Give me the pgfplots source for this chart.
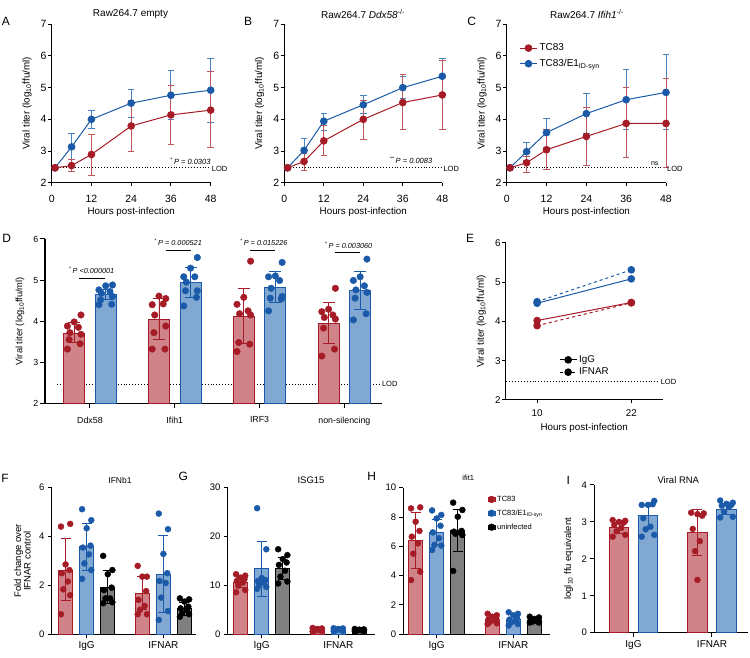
\documentclass[border=0pt]{standalone}
\usepackage{fontspec}
\setmainfont{Liberation Sans}
\usepackage{pgfplots}
\pgfplotsset{compat=1.18}
\definecolor{tcred}{RGB}{166,28,38}
\definecolor{tcblue}{RGB}{26,90,168}
\definecolor{redfill}{RGB}{208,132,137}
\definecolor{bluefill}{RGB}{128,168,210}
\definecolor{grayfill}{RGB}{128,128,128}
\definecolor{redeb}{RGB}{192,86,94}
\definecolor{blueeb}{RGB}{72,132,196}
\newcommand{\fs}[1]{\fontsize{#1}{#1}\selectfont}
\pgfplotsset{
 base/.style={scale only axis, anchor=south west, axis x line*=bottom, axis y line*=left,
   axis line style={line width=1pt,-}, every tick/.style={line width=1pt,black},
   tick align=outside, major tick length=3.5pt, clip=false,
   /pgf/number format/assume math mode=true,
   tick label style={font=\fs{10.5}},
   yticklabel style={inner sep=1.5pt},
   label style={font=\fs{9.8}}},
 linered/.style={tcred, line width=1pt, mark=*, mark size=3.3pt, mark options={fill=tcred, draw=tcred, solid},
   /pgfplots/error bars/y dir=both, /pgfplots/error bars/y explicit,
   /pgfplots/error bars/error bar style={line width=1pt, redeb},
   /pgfplots/error bars/error mark options={rotate=90, line width=1pt, redeb, mark size=3.3pt}},
 lineblue/.style={tcblue, line width=1pt, mark=*, mark size=3.3pt, mark options={fill=tcblue, draw=tcblue, solid},
   /pgfplots/error bars/y dir=both, /pgfplots/error bars/y explicit,
   /pgfplots/error bars/error bar style={line width=1pt, blueeb},
   /pgfplots/error bars/error mark options={rotate=90, line width=1pt, blueeb, mark size=3.3pt}},
 barsty/.style n args={4}{ybar, bar width=#1, bar shift=0pt, fill=#3, draw=#4, line width=0.9pt,
   /pgfplots/error bars/y dir=both, /pgfplots/error bars/y explicit,
   /pgfplots/error bars/error bar style={line width=0.9pt, #4},
   /pgfplots/error bars/error mark options={rotate=90, line width=0.9pt, #4, mark size=#2}},
 pts/.style 2 args={only marks, mark=*, mark size=#2, #1, mark options={fill=#1, draw=#1}},
 lod/.style={black, dotted, line width=0.9pt},
}
\begin{document}
\begin{tikzpicture}
\path[use as bounding box] (0pt,0pt) rectangle (750pt,658pt);

% ---------------- Panel A
\begin{axis}[base, at={(51.7pt,475.3pt)}, width=159pt, height=158.4pt,
  xmin=0, xmax=48, ymin=2, ymax=7, xtick={0,12,24,36,48}, ytick={2,3,4,5,6,7},
  xticklabel style={yshift=-5pt},
  xlabel={Hours post-infection}, ylabel={Viral titer (log\textsubscript{10}ffu/ml)},
  ylabel style={yshift=4pt}, xlabel style={yshift=2pt}]
\addplot[lod] coordinates {(0,2.47) (48,2.47)};
\addplot[lineblue] table[x=t,y=m,y error plus=ep,y error minus=em,row sep=\\] {
t m ep em\\ 1 2.47 0 0\\ 6 3.13 0.43 0.41\\ 12 4.00 0.27 0.29\\ 24 4.51 0.42 0.46\\ 36 4.76 0.78 0.78\\ 48 4.92 1.01 1.02\\};
\addplot[linered] table[x=t,y=m,y error plus=ep,y error minus=em,row sep=\\] {
t m ep em\\ 1 2.47 0 0\\ 6 2.54 0.18 0.19\\ 12 2.89 0.62 0.65\\ 24 3.79 0.82 0.79\\ 36 4.14 0.92 0.94\\ 48 4.29 1.22 1.18\\};
\node[anchor=base east, font=\fs{7.5}\itshape, inner sep=0pt] at (axis cs:48,2.57) {\textsuperscript{*}\,P = 0.0303};
\node[anchor=west, font=\fs{7.5}, inner sep=1pt] at (axis cs:48,2.45) {LOD};
\end{axis}

% ---------------- Panel B
\begin{axis}[base, at={(284.3pt,475.3pt)}, width=158pt, height=158.4pt,
  xmin=0, xmax=48, ymin=2, ymax=7, xtick={0,12,24,36,48}, ytick={2,3,4,5,6,7},
  xticklabel style={yshift=-5pt},
  xlabel={Hours post-infection}, ylabel={Viral titer (log\textsubscript{10}ffu/ml)},
  ylabel style={yshift=4pt}, xlabel style={yshift=2pt}]
\addplot[lod] coordinates {(0,2.47) (48,2.47)};
\addplot[lineblue] table[x=t,y=m,y error plus=ep,y error minus=em,row sep=\\] {
t m ep em\\ 1 2.47 0 0\\ 6 3.02 0.36 0.36\\ 12 3.94 0.24 0.28\\ 24 4.46 0.28 0.27\\ 36 5.00 0.35 0.34\\ 48 5.36 0.56 0.56\\};
\addplot[linered] table[x=t,y=m,y error plus=ep,y error minus=em,row sep=\\] {
t m ep em\\ 1 2.47 0 0\\ 6 2.67 0.26 0.29\\ 12 3.32 0.47 0.45\\ 24 4.00 0.61 0.65\\ 36 4.53 0.87 0.84\\ 48 4.77 1.10 1.08\\};
\node[anchor=base east, font=\fs{7.5}\itshape, inner sep=0pt] at (axis cs:45,2.6) {\textsuperscript{**}\,P = 0.0083};
\node[anchor=west, font=\fs{7.5}, inner sep=1pt] at (axis cs:48,2.45) {LOD};
\end{axis}

% ---------------- Panel C
\begin{axis}[base, at={(506.7pt,475.3pt)}, width=159.3pt, height=158.4pt,
  xmin=0, xmax=48, ymin=2, ymax=7, xtick={0,12,24,36,48}, ytick={2,3,4,5,6,7},
  xticklabel style={yshift=-5pt},
  xlabel={Hours post-infection}, ylabel={Viral titer (log\textsubscript{10}ffu/ml)},
  ylabel style={yshift=4pt}, xlabel style={yshift=2pt},
  legend style={at={(axis description cs:0.06,0.80)}, anchor=west, draw=none, fill=none,
    font=\fs{10}, row sep=3pt}, legend cell align=left]
\addlegendimage{linered}\addlegendentry{TC83}
\addlegendimage{lineblue}\addlegendentry{TC83/E1\textsubscript{ID-syn}}
\addplot[forget plot, lod] coordinates {(0,2.47) (48,2.47)};
\addplot[forget plot, lineblue] table[x=t,y=m,y error plus=ep,y error minus=em,row sep=\\] {
t m ep em\\ 1 2.47 0 0\\ 6 2.98 0.29 0.29\\ 12 3.58 0.46 0.46\\ 24 4.18 0.62 0.62\\ 36 4.62 0.94 0.95\\ 48 4.85 1.21 1.18\\};
\addplot[forget plot, linered] table[x=t,y=m,y error plus=ep,y error minus=em,row sep=\\] {
t m ep em\\ 1 2.47 0 0\\ 6 2.63 0.19 0.31\\ 12 3.04 0.63 0.61\\ 24 3.46 0.92 0.91\\ 36 3.87 1.13 1.09\\ 48 3.87 1.42 1.40\\};
\node[anchor=base, font=\fs{7}, inner sep=0pt] at (axis cs:44.6,2.55) {ns};
\node[anchor=west, font=\fs{7.5}, inner sep=1pt] at (axis cs:48,2.45) {LOD};
\end{axis}

% ---------------- Panel D
\begin{axis}[base, clip=true, clip mode=individual, at={(45pt,254.7pt)}, width=336.7pt, height=164.3pt,
  xmin=-0.53, xmax=3.44, ymin=2, ymax=6, xtick={0,1,2,3}, ytick={2,3,4,5,6},
  xticklabels={Ddx58,Ifih1,IRF3,non-silencing},
  major tick length=5pt,
  tick label style={font=\fs{8.8}}, xticklabel style={yshift=-5pt},
  ylabel={Viral titer (log\textsubscript{10}ffu/ml)}, ylabel style={font=\fs{9.3}, yshift=4pt}]
\addplot[lod] coordinates {(-0.39,2.47) (3.41,2.47)};
\addplot[barsty={21pt}{6pt}{redfill}{tcred}] table[x=x,y=y,y error plus=ep,y error minus=em,row sep=\\] {
x y ep em\\ -0.186 3.70 0.28 0.21\\ 0.814 4.04 0.51 0.49\\ 1.814 4.12 0.68 0.67\\ 2.814 3.95 0.50 0.50\\};
\addplot[barsty={21pt}{6pt}{bluefill}{tcblue}] table[x=x,y=y,y error plus=ep,y error minus=em,row sep=\\] {
x y ep em\\ 0.186 4.65 0.12 0.12\\ 1.186 4.93 0.37 0.36\\ 2.186 4.83 0.37 0.38\\ 3.186 4.74 0.46 0.45\\};
\addplot[pts={tcred}{3.3pt}] table[row sep=\\] {
x y\\ -0.106 4.15\\ -0.186 3.98\\ -0.266 3.88\\ -0.136 3.85\\ -0.236 3.72\\ -0.106 3.68\\ -0.246 3.55\\ -0.116 3.45\\ -0.266 3.32\\
0.894 4.55\\ 0.814 4.61\\ 0.734 4.40\\ 0.864 4.42\\ 0.764 4.15\\ 0.894 3.88\\ 0.754 3.72\\ 0.884 3.32\\ 0.734 3.32\\
1.894 5.46\\ 1.814 4.58\\ 1.734 4.41\\ 1.864 4.25\\ 1.764 4.18\\ 1.894 4.15\\ 1.754 3.48\\ 1.884 3.44\\ 1.734 3.26\\
2.894 4.80\\ 2.814 4.29\\ 2.734 4.23\\ 2.864 4.15\\ 2.764 4.09\\ 2.894 4.05\\ 2.754 3.83\\ 2.884 3.32\\ 2.734 3.15\\};
\addplot[pts={tcblue}{3.3pt}] table[row sep=\\] {
x y\\ 0.266 4.88\\ 0.186 4.86\\ 0.106 4.76\\ 0.236 4.72\\ 0.136 4.68\\ 0.266 4.60\\ 0.126 4.52\\ 0.256 4.41\\ 0.106 4.40\\
1.266 5.55\\ 1.186 5.29\\ 1.106 5.08\\ 1.236 5.08\\ 1.136 4.95\\ 1.266 4.74\\ 1.126 4.74\\ 1.256 4.58\\ 1.106 4.37\\
2.266 5.43\\ 2.186 5.10\\ 2.106 5.08\\ 2.236 4.99\\ 2.136 4.80\\ 2.266 4.60\\ 2.126 4.56\\ 2.256 4.54\\ 2.106 4.25\\
3.266 5.51\\ 3.186 5.08\\ 3.106 4.99\\ 3.236 4.86\\ 3.136 4.76\\ 3.266 4.70\\ 3.126 4.56\\ 3.256 4.18\\ 3.106 4.03\\};
\addplot[black, line width=0.9pt] coordinates {(-0.126,5.03) (0.177,5.03)};
\addplot[black, line width=0.9pt] coordinates {(0.893,5.72) (1.187,5.72)};
\addplot[black, line width=0.9pt] coordinates {(1.887,5.72) (2.18,5.72)};
\addplot[black, line width=0.9pt] coordinates {(2.889,5.67) (3.184,5.67)};
\node[font=\fs{7.3}\itshape] at (axis cs:0.02,5.23) {\textsuperscript{*}\,P <0.000001};
\node[font=\fs{7.3}\itshape] at (axis cs:1.04,5.91) {\textsuperscript{*}\,P = 0.000521};
\node[font=\fs{7.3}\itshape] at (axis cs:2.05,5.91) {\textsuperscript{*}\,P = 0.015226};
\node[font=\fs{7.3}\itshape] at (axis cs:3.05,5.85) {\textsuperscript{*}\,P = 0.003060};
\node[anchor=west, font=\fs{7.5}, inner sep=1pt] at (axis cs:3.43,2.47) {LOD};
\end{axis}

% ---------------- Panel E
\begin{axis}[base, at={(505.7pt,258pt)}, width=157pt, height=157.3pt,
  xmin=6, xmax=26, ymin=2, ymax=6, xtick={10,22}, ytick={2,3,4,5,6},
  tick label style={font=\fs{9.8}}, xticklabel style={yshift=-3pt},
  xlabel={Hours post-infection}, ylabel={Viral titer (log\textsubscript{10}ffu/ml)},
  ylabel style={yshift=4pt},
  legend style={at={(axis description cs:0.32,0.216)}, anchor=west, draw=none, fill=none,
    font=\fs{9.8}, row sep=0pt}, legend cell align=left]
\addlegendimage{black, line width=1pt, mark=*, mark size=3.3pt}\addlegendentry{IgG}
\addlegendimage{black, line width=1pt, dashed, mark=*, mark size=3.3pt, mark options={solid}}\addlegendentry{IFNAR}
\addplot[forget plot, lod] coordinates {(6.1,2.47) (25.6,2.47)};
\addplot[forget plot, tcblue, line width=1pt, mark=*, mark size=3.3pt] coordinates {(10,4.46) (22,5.08)};
\addplot[forget plot, tcblue, line width=1pt, dashed, mark=*, mark size=3.3pt, mark options={solid}] coordinates {(10,4.50) (22,5.31)};
\addplot[forget plot, tcred, line width=1pt, mark=*, mark size=3.3pt] coordinates {(10,4.02) (22,4.48)};
\addplot[forget plot, tcred, line width=1pt, dashed, mark=*, mark size=3.3pt, mark options={solid}] coordinates {(10,3.89) (22,4.47)};
\node[anchor=west, font=\fs{7.5}, inner sep=1pt] at (axis cs:25.6,2.47) {LOD};
\end{axis}

% ---------------- Panel F
\begin{axis}[base, at={(51.7pt,23.7pt)}, width=144.3pt, height=146.6pt,
  xmin=-0.456, xmax=1.425, ymin=0, ymax=6, xtick={0,1}, xticklabels={IgG,IFNAR}, ytick={0,2,4,6},
  major tick length=4pt, tick label style={font=\fs{9.5}}, xticklabel style={font=\fs{10}},
  yticklabel style={inner sep=3pt},
  ylabel={Fold change over\\IFNAR control}, ylabel style={align=center, font=\fs{9.5}, yshift=2pt}]
\addplot[barsty={14.3pt}{5pt}{redfill}{tcred}] table[x=x,y=y,y error plus=ep,y error minus=em,row sep=\\] {
x y ep em\\ -0.275 2.63 1.30 1.25\\ 0.725 1.68 0.67 0.68\\};
\addplot[barsty={14.3pt}{5pt}{bluefill}{tcblue}] table[x=x,y=y,y error plus=ep,y error minus=em,row sep=\\] {
x y ep em\\ 0 3.59 0.96 0.99\\ 1 2.46 1.57 1.57\\};
\addplot[barsty={14.3pt}{5pt}{grayfill}{black}] table[x=x,y=y,y error plus=ep,y error minus=em,row sep=\\] {
x y ep em\\ 0.275 1.91 0.69 0.66\\ 1.275 1.04 0.28 0.26\\};
\addplot[pts={tcred}{3pt}] table[row sep=\\] {
x y\\ -0.335 4.41\\ -0.215 4.52\\ -0.275 2.86\\ -0.225 2.63\\ -0.325 2.50\\ -0.245 2.16\\ -0.305 1.84\\ -0.215 1.60\\ -0.335 0.82\\
0.665 2.80\\ 0.785 2.36\\ 0.725 2.36\\ 0.775 1.77\\ 0.675 1.41\\ 0.755 1.16\\ 0.695 1.00\\ 0.785 0.82\\ 0.665 0.82\\};
\addplot[pts={tcblue}{3pt}] table[row sep=\\] {
x y\\ -0.06 5.12\\ 0.06 4.67\\ 0 4.34\\ 0.05 3.63\\ -0.05 3.55\\ 0.03 3.27\\ -0.03 2.90\\ 0.06 2.63\\ -0.06 2.27\\
0.94 4.94\\ 1.06 4.30\\ 1 3.29\\ 1.05 2.50\\ 0.95 2.18\\ 1.03 2.10\\ 0.97 1.50\\ 1.06 0.95\\ 0.94 0.59\\};
\addplot[pts={black}{3pt}] table[row sep=\\] {
x y\\ 0.215 3.21\\ 0.335 2.63\\ 0.275 2.46\\ 0.325 1.91\\ 0.225 1.81\\ 0.305 1.47\\ 0.245 1.47\\ 0.335 1.31\\ 0.215 1.27\\
1.215 1.47\\ 1.335 1.43\\ 1.275 1.34\\ 1.325 1.13\\ 1.225 1.06\\ 1.305 1.00\\ 1.245 0.86\\ 1.335 0.82\\ 1.215 0.72\\};
\end{axis}

% ---------------- Panel G
\begin{axis}[base, at={(227.7pt,23.7pt)}, width=147.3pt, height=146.6pt,
  xmin=-0.444, xmax=1.479, ymin=0, ymax=30, xtick={0,1}, xticklabels={IgG,IFNAR}, ytick={0,10,20,30},
  major tick length=4pt, tick label style={font=\fs{9.5}}, xticklabel style={font=\fs{10}},
  yticklabel style={inner sep=3pt}]
\addplot[barsty={14pt}{5pt}{redfill}{tcred}] table[x=x,y=y,y error plus=ep,y error minus=em,row sep=\\] {
x y ep em\\ -0.275 10.6 1.0 1.0\\ 0.725 0.93 0.2 0.2\\};
\addplot[barsty={14pt}{5pt}{bluefill}{tcblue}] table[x=x,y=y,y error plus=ep,y error minus=em,row sep=\\] {
x y ep em\\ 0 13.4 5.5 5.6\\ 1 0.95 0.2 0.2\\};
\addplot[barsty={14pt}{5pt}{grayfill}{black}] table[x=x,y=y,y error plus=ep,y error minus=em,row sep=\\] {
x y ep em\\ 0.275 13.5 2.3 2.3\\ 1.275 0.83 0.15 0.15\\};
\addplot[pts={tcred}{3pt}] table[row sep=\\] {
x y\\ -0.335 12.3\\ -0.215 12.0\\ -0.275 11.6\\ -0.225 11.3\\ -0.325 10.9\\ -0.245 10.6\\ -0.305 9.95\\ -0.215 9.07\\ -0.335 8.6\\
0.665 1.3\\ 0.785 1.2\\ 0.725 1.1\\ 0.775 1.0\\ 0.675 0.9\\ 0.755 0.85\\ 0.695 0.75\\ 0.785 0.7\\ 0.665 0.6\\};
\addplot[pts={tcblue}{3pt}] table[row sep=\\] {
x y\\ -0.06 25.8\\ 0.06 17.4\\ 0 11.5\\ 0.05 11.1\\ -0.05 10.9\\ 0.03 10.6\\ -0.03 10.1\\ 0.06 9.7\\ -0.06 9.3\\
0.94 1.25\\ 1.06 1.2\\ 1 1.1\\ 1.05 1.0\\ 0.95 0.95\\ 1.03 0.9\\ 0.97 0.8\\ 1.06 0.7\\ 0.94 0.65\\};
\addplot[pts={black}{3pt}] table[row sep=\\] {
x y\\ 0.215 17.4\\ 0.335 16.2\\ 0.275 15.4\\ 0.325 14.7\\ 0.225 14.2\\ 0.305 13.0\\ 0.245 11.8\\ 0.335 10.8\\ 0.215 10.4\\
1.215 1.1\\ 1.335 1.0\\ 1.275 0.95\\ 1.325 0.9\\ 1.225 0.85\\ 1.305 0.8\\ 1.245 0.75\\ 1.335 0.7\\ 1.215 0.65\\};
\end{axis}

% ---------------- Panel H
\begin{axis}[base, at={(403.3pt,23.7pt)}, width=146.7pt, height=146.6pt,
  xmin=-0.436, xmax=1.479, ymin=0, ymax=10, xtick={0,1}, xticklabels={IgG,IFNAR}, ytick={0,2,4,6,8,10},
  major tick length=4pt, tick label style={font=\fs{9.5}}, xticklabel style={font=\fs{10}},
  yticklabel style={inner sep=3pt},
  legend style={at={(axis description cs:0.568,0.825)}, anchor=west, draw=none, fill=none,
    font=\fs{7.5}, row sep=3pt, inner sep=1pt}, legend cell align=left,
  legend image code/.code={\path (0pt,-2pt) rectangle (7pt,2pt); \draw[#1] plot coordinates {(3.5pt,0pt)};}]
\addlegendimage{only marks, mark=*, mark size=3.4pt, tcred, mark options={fill=tcred}}\addlegendentry{TC83}
\addlegendimage{only marks, mark=*, mark size=3.4pt, tcblue, mark options={fill=tcblue}}\addlegendentry{TC83/E1\textsubscript{ID-syn}}
\addlegendimage{only marks, mark=*, mark size=3.4pt, black, mark options={fill=black}}\addlegendentry{uninfected}
\addplot[forget plot, barsty={14pt}{5pt}{redfill}{tcred}] table[x=x,y=y,y error plus=ep,y error minus=em,row sep=\\] {
x y ep em\\ -0.275 6.41 1.9 1.9\\ 0.725 1.03 0.25 0.25\\};
\addplot[forget plot, barsty={14pt}{5pt}{bluefill}{tcblue}] table[x=x,y=y,y error plus=ep,y error minus=em,row sep=\\] {
x y ep em\\ 0 6.95 0.9 0.8\\ 1 1.03 0.3 0.3\\};
\addplot[forget plot, barsty={14pt}{5pt}{grayfill}{black}] table[x=x,y=y,y error plus=ep,y error minus=em,row sep=\\] {
x y ep em\\ 0.275 7.05 1.5 1.4\\ 1.275 0.96 0.15 0.15\\};
\addplot[forget plot, pts={tcred}{3pt}] table[row sep=\\] {
x y\\ -0.335 8.59\\ -0.215 8.66\\ -0.275 7.68\\ -0.225 7.05\\ -0.325 6.66\\ -0.245 6.20\\ -0.305 5.50\\ -0.215 4.27\\ -0.335 3.70\\
0.665 1.40\\ 0.785 1.30\\ 0.725 1.20\\ 0.775 1.10\\ 0.675 1.00\\ 0.755 0.95\\ 0.695 0.85\\ 0.785 0.75\\ 0.665 0.70\\};
\addplot[forget plot, pts={tcblue}{3pt}] table[row sep=\\] {
x y\\ -0.06 8.45\\ 0.06 8.14\\ 0 7.90\\ 0.05 7.40\\ -0.05 6.95\\ 0.03 6.55\\ -0.03 6.10\\ 0.06 6.05\\ -0.06 5.75\\
0.94 1.50\\ 1.06 1.40\\ 1 1.30\\ 1.05 1.10\\ 0.95 1.00\\ 1.03 0.90\\ 0.97 0.80\\ 1.06 0.70\\ 0.94 0.60\\};
\addplot[forget plot, pts={black}{3pt}] table[row sep=\\] {
x y\\ 0.215 8.98\\ 0.335 8.48\\ 0.275 8.02\\ 0.325 7.05\\ 0.225 7.00\\ 0.305 6.95\\ 0.245 6.86\\ 0.335 6.77\\ 0.215 4.32\\
1.215 1.20\\ 1.335 1.15\\ 1.275 1.05\\ 1.325 1.00\\ 1.225 0.95\\ 1.305 0.90\\ 1.245 0.85\\ 1.335 0.80\\ 1.215 0.80\\};
\end{axis}

% ---------------- Panel I
\begin{axis}[base, at={(594pt,25.3pt)}, width=154pt, height=147.7pt,
  xmin=-0.503, xmax=1.459, ymin=0, ymax=4, xtick={0,1}, xticklabels={IgG,IFNAR}, ytick={0,1,2,3,4},
  major tick length=4pt, tick label style={font=\fs{9.5}}, xticklabel style={font=\fs{10}},
  yticklabel style={inner sep=3pt},
  ylabel={logl\textsubscript{10} ffu equivalent}, ylabel style={font=\fs{9.5}, yshift=2pt}]
\addplot[barsty={19.7pt}{5pt}{redfill}{tcred}] table[x=x,y=y,y error plus=ep,y error minus=em,row sep=\\] {
x y ep em\\ -0.185 2.84 0.14 0.14\\ 0.815 2.71 0.62 0.63\\};
\addplot[barsty={19.7pt}{5pt}{bluefill}{tcblue}] table[x=x,y=y,y error plus=ep,y error minus=em,row sep=\\] {
x y ep em\\ 0.185 3.17 0.28 0.34\\ 1.185 3.34 0.16 0.14\\};
\addplot[pts={tcred}{3pt}] table[row sep=\\] {
x y\\ -0.265 3.05\\ -0.105 3.03\\ -0.185 3.00\\ -0.125 2.98\\ -0.245 2.92\\ -0.155 2.84\\ -0.215 2.75\\ -0.105 2.65\\ -0.265 2.60\\
0.735 3.25\\ 0.895 3.23\\ 0.815 3.21\\ 0.875 3.17\\ 0.755 2.81\\ 0.845 2.48\\ 0.785 2.21\\ 0.815 1.43\\};
\addplot[pts={tcblue}{3pt}] table[row sep=\\] {
x y\\ 0.105 3.46\\ 0.265 3.57\\ 0.185 3.46\\ 0.245 3.48\\ 0.125 3.10\\ 0.215 2.87\\ 0.155 2.80\\ 0.265 2.65\\ 0.105 2.60\\
1.105 3.58\\ 1.265 3.52\\ 1.185 3.49\\ 1.245 3.46\\ 1.125 3.44\\ 1.215 3.41\\ 1.155 3.28\\ 1.265 3.14\\ 1.105 3.12\\};
\end{axis}

% ---------------- titles and panel letters
\node[font=\fs{10}] at (130.5pt,644pt) {Raw264.7 empty};
\node[font=\fs{10}] at (363pt,644pt) {Raw264.7 \textit{Ddx58}\textsuperscript{-/-}};
\node[font=\fs{10}] at (587pt,644pt) {Raw264.7 \textit{Ifih1}\textsuperscript{-/-}};
\node[font=\fs{8.5}] at (120pt,178pt) {IFNb1};
\node[font=\fs{9.5}] at (311pt,178pt) {ISG15};
\node[font=\fs{7.5}] at (468.3pt,179.7pt) {ifit1};
\node[font=\fs{9.5}] at (678.3pt,178pt) {Viral RNA};
\node[font=\fs{12}] at (6pt,636.3pt) {A};
\node[font=\fs{12}] at (248pt,636.3pt) {B};
\node[font=\fs{12}] at (471.7pt,636.3pt) {C};
\node[font=\fs{12}] at (6.7pt,419.7pt) {D};
\node[font=\fs{12}] at (470pt,419.7pt) {E};
\node[font=\fs{12}] at (5pt,179.7pt) {F};
\node[font=\fs{12}] at (183.3pt,181.3pt) {G};
\node[font=\fs{12}] at (371.7pt,181.3pt) {H};
\node[font=\fs{12}] at (568.3pt,178pt) {I};
\end{tikzpicture}
\end{document}
